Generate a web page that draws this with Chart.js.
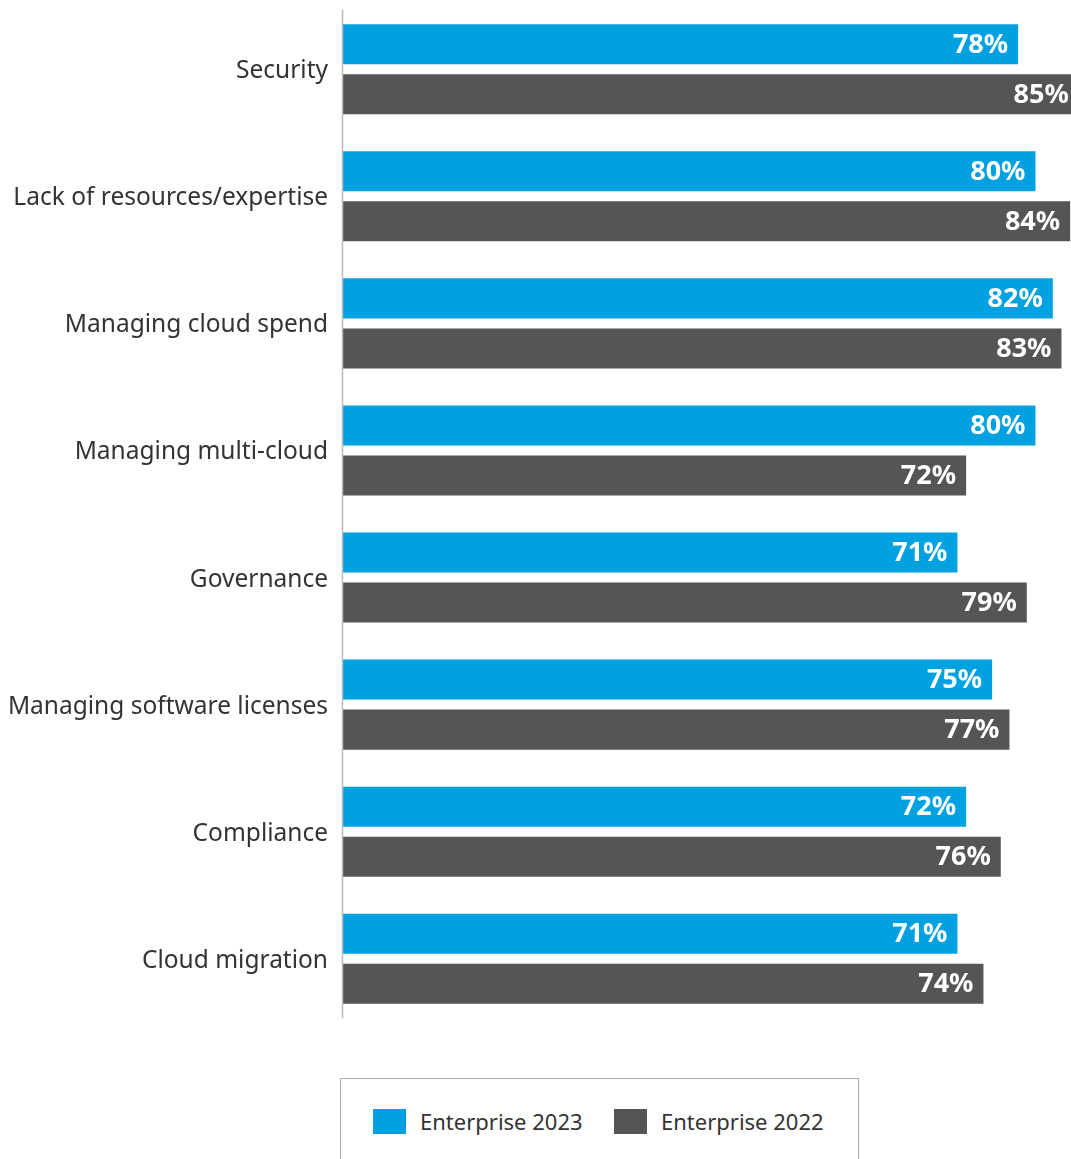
<!DOCTYPE html>
<html>
<head>
<meta charset="utf-8">
<script src="https://cdn.jsdelivr.net/npm/chart.js@4/dist/chart.umd.min.js"></script>
<style>
  body { margin: 0; background: #fff; font-family: "Noto Sans", sans-serif; }
  #wrap { position: relative; width: 1071px; height: 1159px; overflow: hidden; }
  #chartBox { position: absolute; left: 0; top: -15px; width: 1071px; height: 1058px; }
  #legend {
    position: absolute; left: 340px; top: 1078px; width: 519px; height: 100px;
    border: 1.5px solid #aaa; box-sizing: border-box;
  }
  .item { position: absolute; top: 27px; display: flex; align-items: center; font-size: 22px; color: #333; }
  .swatch { width: 33px; height: 25px; margin-right: 14px; }
</style>
</head>
<body>
<div id="wrap">
  <div id="chartBox"><canvas id="barChart"></canvas></div>
  <div id="legend"></div>
</div>
<script>
const categories = ['Security', 'Lack of resources/expertise', 'Managing cloud spend', 'Managing multi-cloud',
  'Governance', 'Managing software licenses', 'Compliance', 'Cloud migration'];
const values2023 = [78, 80, 82, 80, 71, 75, 72, 71];
const values2022 = [85, 84, 83, 72, 79, 77, 76, 74];
const seriesNames = ['Enterprise 2023', 'Enterprise 2022'];
const seriesColors = ['#00a1e0', '#555555'];

// value labels inside bar ends + the axis line (a bit shorter than the plot area)
const barLabels = {
  id: 'barLabels',
  afterDatasetsDraw(chart) {
    const ctx = chart.ctx;
    const area = chart.chartArea;
    ctx.save();
    ctx.strokeStyle = '#bbbbbb';
    ctx.lineWidth = 1.5;
    ctx.beginPath();
    ctx.moveTo(area.left + 0.5, area.top + 4);
    ctx.lineTo(area.left + 0.5, area.bottom - 4);
    ctx.stroke();

    ctx.font = 'bold 27px "Noto Sans"';
    ctx.fillStyle = '#ffffff';
    ctx.textAlign = 'right';
    ctx.textBaseline = 'middle';
    chart.data.datasets.forEach((ds, i) => {
      chart.getDatasetMeta(i).data.forEach((bar, j) => {
        ctx.fillText(ds.data[j] + '%', bar.x - 10, bar.y + 1);
      });
    });
    ctx.restore();
  }
};

const chart = new Chart(document.getElementById('barChart'), {
  type: 'bar',
  data: {
    labels: categories,
    datasets: [
      { label: seriesNames[0], data: values2023, backgroundColor: seriesColors[0] },
      { label: seriesNames[1], data: values2022, backgroundColor: seriesColors[1] }
    ]
  },
  options: {
    indexAxis: 'y',
    responsive: true,
    maintainAspectRatio: false,
    animation: false,
    categoryPercentage: 100 / 127,
    barPercentage: 0.8,
    layout: { padding: { top: 5, bottom: 8, right: 0, left: 0 } },
    plugins: { legend: { display: false }, tooltip: { enabled: false } },
    scales: {
      x: { display: false, min: 0, max: 84.1 },
      y: {
        grid: { display: false },
        border: { display: false },
        ticks: { color: '#333333', font: { size: 24.5, family: 'Noto Sans' }, padding: 6, labelOffset: 2 },
        afterFit(scale) { scale.width = 342; }
      }
    }
  },
  plugins: [barLabels]
});

const legend = document.getElementById('legend');
const lefts = [32, 273];
seriesNames.forEach((name, i) => {
  const el = document.createElement('div');
  el.className = 'item';
  el.style.left = lefts[i] + 'px';
  el.innerHTML = '<span class="swatch" style="background:' + seriesColors[i] + '"></span>' + name;
  legend.appendChild(el);
});
</script>
</body>
</html>
